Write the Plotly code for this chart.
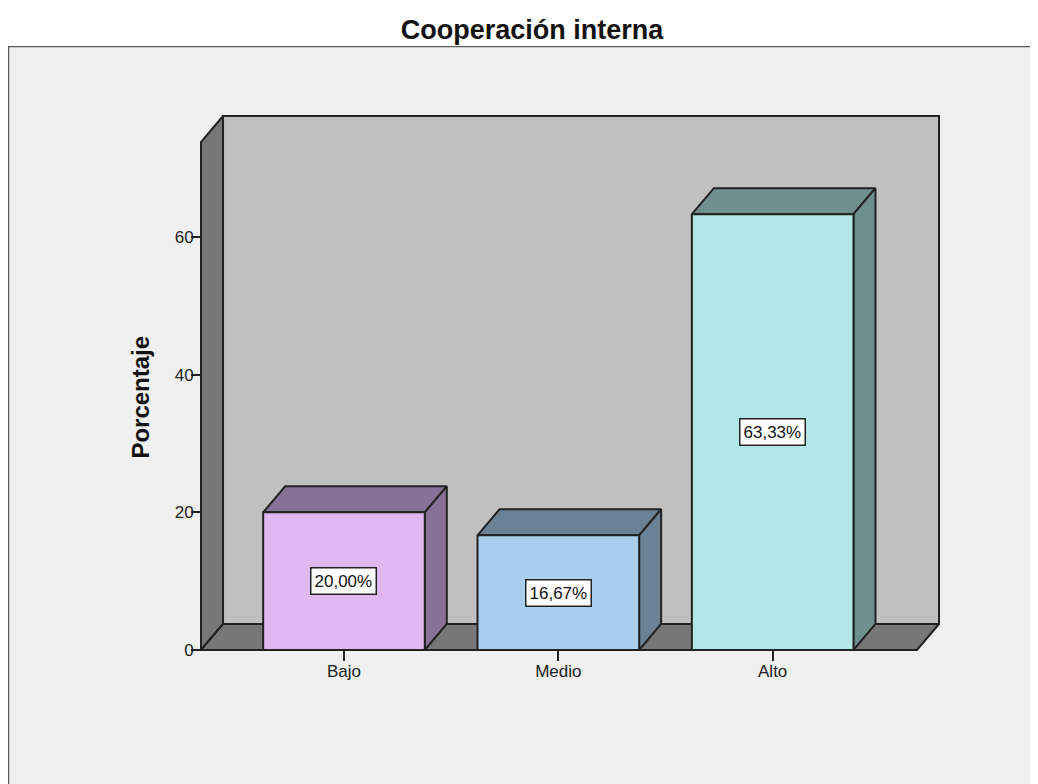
import plotly.graph_objects as go

# data
categories = ["Bajo", "Medio", "Alto"]
percentages = [20.00, 16.67, 63.33]
front_colors = ["#dfb8f2", "#aacfee", "#b3e6e6"]
shade_colors = ["#877196", "#6b8296", "#708f8f"]
y_ticks = [0, 20, 40, 60]

# 3D box geometry (in axis units)
BAR_WIDTH = 0.754
DX = 0.1027   # depth along x
DY = 3.78     # depth along y
X_LEFT = -0.667
X_RIGHT = 2.776
Y_TOP = 77.6
EDGE = "#222222"
FONT = "Liberation Sans, Arial, sans-serif"


def polygon(xs, ys, fill, width=2):
    return go.Scatter(
        x=xs + xs[:1],
        y=ys + ys[:1],
        mode="lines",
        fill="toself",
        fillcolor=fill,
        line=dict(color=EDGE, width=width),
        hoverinfo="skip",
        showlegend=False,
    )


fig = go.Figure()

# back wall, left wall and floor
fig.add_trace(polygon(
    [X_LEFT + DX, X_RIGHT, X_RIGHT, X_LEFT + DX],
    [DY, DY, Y_TOP, Y_TOP],
    "#c0c0c0",
))
fig.add_trace(polygon(
    [X_LEFT, X_LEFT + DX, X_LEFT + DX, X_LEFT],
    [0, DY, Y_TOP, Y_TOP - DY],
    "#777777",
))
fig.add_trace(polygon(
    [X_LEFT, X_RIGHT - DX, X_RIGHT, X_LEFT + DX],
    [0, 0, DY, DY],
    "#777777",
))

# each bar: top face, side face, front face
for i, (v, front, shade) in enumerate(zip(percentages, front_colors, shade_colors)):
    x0 = i - BAR_WIDTH / 2
    x1 = i + BAR_WIDTH / 2
    fig.add_trace(polygon(
        [x0, x0 + DX, x1 + DX, x1],
        [v, v + DY, v + DY, v],
        shade,
    ))
    fig.add_trace(polygon(
        [x1, x1 + DX, x1 + DX, x1],
        [0, DY, v + DY, v],
        shade,
    ))
    fig.add_trace(polygon(
        [x0, x1, x1, x0],
        [0, 0, v, v],
        front,
    ))

# value labels
for i, v in enumerate(percentages):
    fig.add_annotation(
        x=i,
        y=v / 2,
        text=f"{v:.2f}%".replace(".", ","),
        showarrow=False,
        font=dict(family=FONT, size=17, color="#111111"),
        bgcolor="white",
        bordercolor=EDGE,
        borderwidth=1.5,
        borderpad=3,
    )

# plot area in figure pixels: x 189..935, y 104..646
PAD_X = 4 / 214.35
PAD_Y = 4 / 6.881

fig.add_shape(
    type="rect",
    xref="paper", yref="paper",
    x0=-0.2534, x1=1.3, y0=-0.4, y1=1.1218,
    fillcolor="#f0f0f0",
    line=dict(color="#5a5a5a", width=2.5),
    layer="below",
)

fig.add_annotation(
    xref="paper", yref="paper",
    x=-0.0965, y=0.474,
    text="<b>Porcentaje</b>",
    textangle=-90,
    showarrow=False,
    font=dict(family=FONT, size=24, color="#111111"),
)

fig.update_layout(
    width=1030,
    height=776,
    margin=dict(l=189, r=95, t=104, b=130),
    paper_bgcolor="#f0f0f0",
    plot_bgcolor="rgba(0,0,0,0)",
    showlegend=False,
    hovermode=False,
    title=dict(
        text="<b>Cooperación interna</b>",
        xref="container", yref="container",
        x=524 / 1030, y=1 - 22 / 776,
        xanchor="center", yanchor="middle",
        font=dict(family=FONT, size=27, color="#111111"),
    ),
    xaxis=dict(
        range=[X_LEFT - PAD_X, X_RIGHT + PAD_X],
        tickvals=list(range(len(categories))),
        ticktext=categories,
        ticks="outside",
        ticklen=10,
        tickwidth=2,
        tickcolor=EDGE,
        ticklabelstandoff=-4,
        showgrid=False,
        zeroline=False,
        showline=False,
        anchor="free",
        position=4 / 542,
        tickfont=dict(family=FONT, size=17, color="#222222"),
        fixedrange=True,
    ),
    yaxis=dict(
        range=[-PAD_Y, Y_TOP + PAD_Y],
        tickvals=y_ticks,
        ticks="outside",
        ticklen=10,
        tickwidth=2,
        tickcolor=EDGE,
        ticklabelstandoff=-6,
        showgrid=False,
        zeroline=False,
        showline=False,
        anchor="free",
        position=4 / 746,
        tickfont=dict(family=FONT, size=17, color="#222222"),
        fixedrange=True,
    ),
)

# white strip above the frame, where the title sits
fig.add_shape(
    type="rect",
    xref="paper", yref="paper",
    x0=-0.3, x1=1.3, y0=1.1218, y1=1.4,
    fillcolor="white",
    line=dict(width=0),
    layer="below",
)

fig.write_html("out.html")
